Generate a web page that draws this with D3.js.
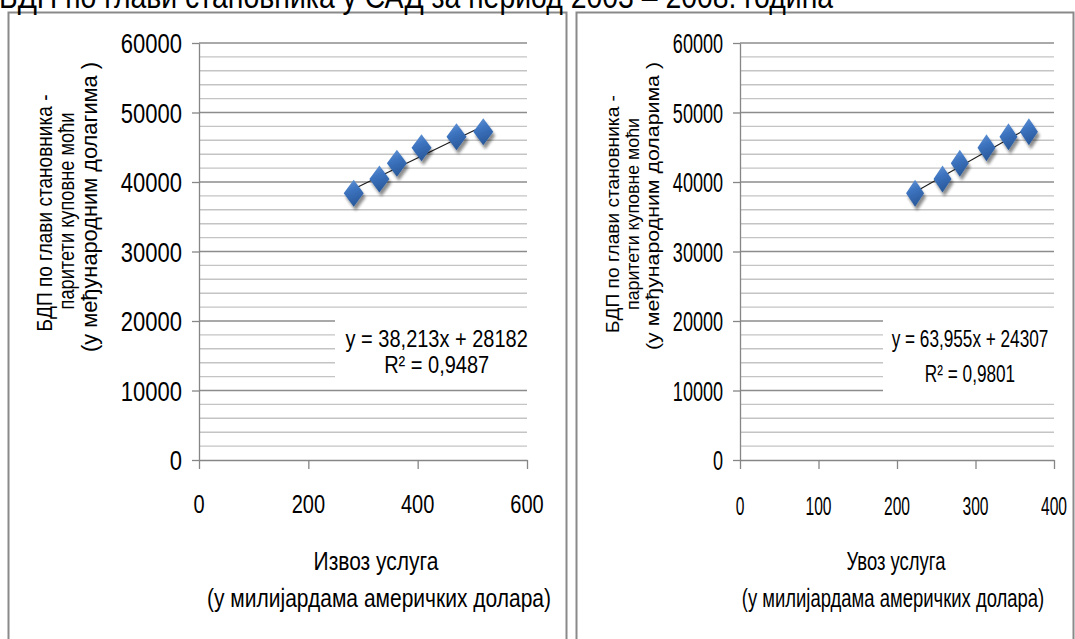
<!DOCTYPE html>
<html>
<head>
<meta charset="utf-8">
<script src="https://cdn.jsdelivr.net/npm/d3@7"></script>
<style>
  html, body { margin: 0; padding: 0; background: #fff; overflow: hidden; }
  svg { display: block; font-family: "Liberation Sans", Arial, sans-serif; }
</style>
</head>
<body>
<svg id="chart" width="1075" height="639"></svg>
<script>
// ---- data -------------------------------------------------------------
const chartTitle = "БДП по глави становника у САД за период 2003 – 2008. година";

// GDP per capita, PPP (international dollars), 2003–2008
const gdpPerCapita = [38370, 40430, 42690, 44940, 46520, 47240];
// Services trade, billions of US dollars, 2003–2008
const serviceExports = [283, 330, 362, 407, 471, 520];
const serviceImports = [223, 258, 280, 314, 342, 368];

const gdpTicks = [0, 10000, 20000, 30000, 40000, 50000, 60000];
const exportTicks = [0, 200, 400, 600];
const importTicks = [0, 100, 200, 300, 400];

// linear trend: [slope, intercept]
const exportTrend = [38.213, 28182];
const importTrend = [63.955, 24307];
const exportR2 = 0.9487;
const importR2 = 0.9801;

const yTitleExports = ["БДП по глави становника -", "паритети куповне моћи", "(у међународним долагима )"];
const yTitleImports = ["БДП по глави становника -", "паритети куповне моћи", "(у међународним доларима )"];
const xTitleExports = ["Извоз услуга", "(у милијардама америчких долара)"];
const xTitleImports = ["Увоз услуга", "(у милијардама америчких долара)"];

// ---- layout -----------------------------------------------------------
const panels = [
  {
    frame: { x0: 8.5, x1: 566.5, y0: 12.5 },
    plot: { x0: 199, x1: 527, y0: 460, y1: 43 },
    xs: serviceExports, xDomain: [0, 600], xTicks: exportTicks,
    trend: exportTrend, r2: exportR2,
    yTitle: yTitleExports, xTitle: xTitleExports,
    hs: 1.0,            // horizontal text compression of this panel
    yTitleX: [44, 66, 89], yTitleY: [213, 211, 207], yTitleLen: [237, 197, 290], yTitleHs: 1.0,
    xTickHs: 1.0, xTickBase: 513,
    xTitlePos: [[376, 570], [379, 607]], xTitleHs: 1.0,
    eq: { cx: 436.7, base1: 346.7, base2: 373.3, hs: 1.0, box: [335, 308, 527, 384] },
    marker: [20, 27]
  },
  {
    frame: { x0: 576.5, x1: 1073.5, y0: 12.5 },
    plot: { x0: 740, x1: 1054, y0: 460, y1: 43 },
    xs: serviceImports, xDomain: [0, 400], xTicks: importTicks,
    trend: importTrend, r2: importR2,
    yTitle: yTitleImports, xTitle: xTitleImports,
    hs: 0.82,
    yTitleX: [612, 632, 652], yTitleY: [214, 214, 206], yTitleLen: [238, 192, 288], yTitleHs: 0.87,
    xTickHs: 0.78, xTickBase: 515,
    xTitlePos: [[896, 570], [893, 607]], xTitleHs: 0.88,
    eq: { cx: 970, base1: 346.7, base2: 381.7, hs: 0.86, box: [883, 308, 1054, 398] },
    marker: [18, 27]
  }
];

const svg = d3.select("#chart");
const defs = svg.append("defs");

const grad = defs.append("linearGradient")
  .attr("id", "markerFill").attr("x1", 0).attr("y1", 0).attr("x2", 0.3).attr("y2", 1);
grad.append("stop").attr("offset", "0%").attr("stop-color", "#6a9ada");
grad.append("stop").attr("offset", "45%").attr("stop-color", "#3d74c0");
grad.append("stop").attr("offset", "100%").attr("stop-color", "#2a5a9c");

const shadow = defs.append("filter").attr("id", "markerShadow")
  .attr("x", "-50%").attr("y", "-50%").attr("width", "200%").attr("height", "200%");
shadow.append("feGaussianBlur").attr("in", "SourceAlpha").attr("stdDeviation", 1.8).attr("result", "b");
shadow.append("feOffset").attr("in", "b").attr("dx", 2).attr("dy", 3.5).attr("result", "o");
const ct = shadow.append("feComponentTransfer").attr("in", "o").attr("result", "s");
ct.append("feFuncA").attr("type", "linear").attr("slope", 0.45);
const merge = shadow.append("feMerge");
merge.append("feMergeNode").attr("in", "s");
merge.append("feMergeNode").attr("in", "SourceGraphic");

const fmtComma = v => String(v).replace(".", ",");

function addText(g, str, x, y, size, sx, sy, anchor, extra) {
  return g.append("text")
    .attr("transform", `translate(${x},${y}) scale(${sx},${sy})${extra || ""}`)
    .attr("font-size", size)
    .attr("text-anchor", anchor)
    .attr("fill", "#000")
    .text(str);
}

panels.forEach(p => {
  const g = svg.append("g");
  const x = d3.scaleLinear().domain(p.xDomain).range([p.plot.x0, p.plot.x1]);
  const y = d3.scaleLinear().domain([0, 60000]).range([p.plot.y0, p.plot.y1]);

  // panel frame (bottom runs past the page)
  g.append("path")
    .attr("d", `M${p.frame.x0},700V${p.frame.y0}H${p.frame.x1}V700`)
    .attr("fill", "none").attr("stroke", "#8a8a8a").attr("stroke-width", 2);

  // horizontal gridlines every 2000, darker at the labelled values
  const grid = d3.range(2000, 60001, 2000);
  g.append("g").selectAll("line").data(grid).join("line")
    .attr("x1", p.plot.x0).attr("x2", p.plot.x1)
    .attr("y1", d => y(d)).attr("y2", d => y(d))
    .attr("stroke", d => d % 10000 === 0 ? "#8c8c8c" : "#c4c4c4")
    .attr("stroke-width", 1.4);

  // y axis
  g.append("g")
    .attr("transform", `translate(${p.plot.x0},0)`)
    .call(d3.axisLeft(y).tickValues(gdpTicks).tickSize(7).tickSizeOuter(0).tickFormat(""))
    .call(a => a.selectAll("path,line").attr("stroke", "#868686").attr("stroke-width", 1.3));

  // x axis
  g.append("g")
    .attr("transform", `translate(0,${p.plot.y0})`)
    .call(d3.axisBottom(x).tickValues(p.xTicks).tickSize(9).tickSizeOuter(0).tickFormat(""))
    .call(a => a.selectAll("path,line").attr("stroke", "#868686").attr("stroke-width", 1.3));

  // y tick labels
  gdpTicks.forEach(v => {
    addText(g, String(v), p.plot.x0 - 17, y(v), 22, p.hs, 1.27, "end").attr("dy", "0.36em");
  });

  // x tick labels
  p.xTicks.forEach(v => {
    addText(g, String(v), x(v), p.xTickBase, 20, p.xTickHs, 1.25, "middle");
  });

  // y axis title (rotated, three lines)
  p.yTitle.forEach((line, i) => {
    addText(g, line, p.yTitleX[i], p.yTitleY[i], 21.5, p.yTitleHs, 1, "middle", " rotate(-90)")
      .attr("dy", "0.35em")
      .attr("textLength", p.yTitleLen[i])
      .attr("lengthAdjust", "spacingAndGlyphs");
  });

  // x axis title
  p.xTitle.forEach((line, i) => {
    addText(g, line, p.xTitlePos[i][0], p.xTitlePos[i][1], 21, p.xTitleHs, 1.2, "middle");
  });

  // trend line across the data range, from the stated equation
  const [slope, intercept] = p.trend;
  const xMin = d3.min(p.xs), xMax = d3.max(p.xs);
  g.append("line")
    .attr("x1", x(xMin)).attr("y1", y(slope * xMin + intercept))
    .attr("x2", x(xMax)).attr("y2", y(slope * xMax + intercept))
    .attr("stroke", "#1a1a1a").attr("stroke-width", 1.1);

  // markers
  const [mw, mh] = p.marker;
  const diamond = `M0,${-mh / 2}L${mw / 2},0L0,${mh / 2}L${-mw / 2},0Z`;
  g.append("g").selectAll("path").data(p.xs.map((v, i) => [v, gdpPerCapita[i]])).join("path")
    .attr("d", diamond)
    .attr("transform", d => `translate(${x(d[0])},${y(d[1])})`)
    .attr("fill", "url(#markerFill)")
    .attr("filter", "url(#markerShadow)");

  // trend equation label on a white box
  const b = p.eq.box;
  g.append("rect").attr("x", b[0]).attr("y", b[1]).attr("width", b[2] - b[0] + 1).attr("height", b[3] - b[1])
    .attr("fill", "#fff");
  addText(g, `y = ${fmtComma(slope)}x + ${intercept}`, p.eq.cx, p.eq.base1, 20, p.eq.hs, 1.2, "middle");
  addText(g, `R² = ${fmtComma(p.r2)}`, p.eq.cx, p.eq.base2, 20, p.eq.hs, 1.2, "middle");
});

// page title, partly above the visible area
addText(svg, chartTitle, -1, 8, 28.4, 1.0, 1.15, "start");
</script>
</body>
</html>
